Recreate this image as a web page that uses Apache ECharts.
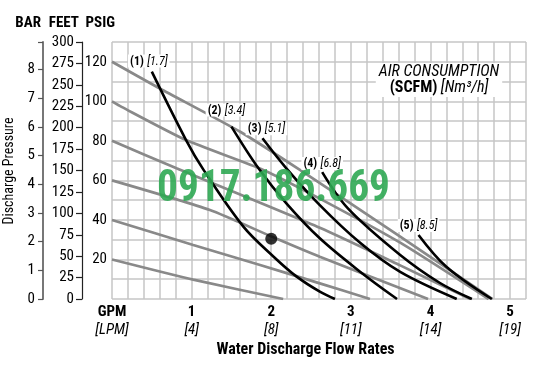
<!DOCTYPE html>
<html><head><meta charset="utf-8">
<script src="https://cdn.jsdelivr.net/npm/echarts@6/dist/echarts.min.js"></script>
<style>html,body{margin:0;padding:0;background:#fff}#c{width:544px;height:381px}</style>
</head><body><div id="c"></div>
<script>
// ---------- data (GPM, PSIG) ----------
const gpmTicks = [1, 2, 3, 4, 5];
const lpmTicks = ['[4]', '[8]', '[11]', '[14]', '[19]'];
const psiTicks = [20, 40, 60, 80, 100, 120];

// air inlet pressure lines (gray)
const air120 = [[0,120],[0.60,106.5],[1.61,84.6],[2.36,65.3],[3.62,31.5],[4.78,0]];
const air100 = [[0,100],[0.12,97.2],[0.93,80.4],[1.90,65.3],[2.61,50.8],[3.62,28.5],[4.73,0]];
const air80  = [[0,80],[0.81,66.1],[2.61,36],[3.62,17],[4.5,0]];
const air60  = [[0,60],[1.23,45],[2.01,31.5],[2.61,21.4],[3.97,0]];
const air40  = [[0,40],[1.02,27.3],[1.86,17.2],[2.61,7.9],[3.24,0]];
const air20  = [[0,20],[1.02,9.8],[2.15,0]];

// air consumption curves (black)
const scfm1 = [[0.50,115],[0.93,80.4],[1.15,65.3],[1.65,36.6],[2.03,21.4],[2.32,11.3],[2.61,3.7],[2.80,0]];
const scfm2 = [[1.50,87.2],[1.84,66.1],[2.19,48.4],[2.61,30.7],[3.12,13.7],[3.58,0]];
const scfm3 = [[1.89,81.3],[2.19,66.1],[2.61,47.5],[3.12,28.3],[3.62,13.7],[4.33,0]];
const scfm4 = [[2.64,64.2],[2.96,46],[3.62,22.3],[4.12,8.1],[4.52,0]];
const scfm5 = [[3.85,32.4],[4.20,16.3],[4.77,0]];
const scfmNames = ['(1)', '(2)', '(3)', '(4)', '(5)'];
const nm3Names = ['[1.7]', '[3.4]', '[5.1]', '[6.8]', '[8.5]'];

const samplePoint = [[2.0, 30.5]];

// ---------- styling ----------
const FONT = '"Roboto Condensed","Liberation Sans Narrow","Open Sans Condensed","DejaVu Sans Condensed",sans-serif';
const PSI_PER_BAR = 14.5038;
const PSI_MAX = 130;

// fit the watermark to its width in the picture
const WM_TEXT = '0917.186.669';
const WM_SIZE = 44;
const mctx = document.createElement('canvas').getContext('2d');
mctx.font = 'bold ' + WM_SIZE + 'px ' + FONT;
const wmScale = 233 / mctx.measureText(WM_TEXT).width;

const grayLines = [air120, air100, air80, air60, air40, air20];
const blackLines = [scfm1, scfm2, scfm3, scfm4, scfm5];
const labelPos = [
  {distance: 4, offset: [-3, 0]},
  {distance: 10, offset: [-5, 0]},
  {distance: 3, offset: [4, 0]},
  {distance: 2, offset: [0, 0]},
  {distance: 3, offset: [0, 0]}
];

const series = [];
grayLines.forEach(function (d) {
  series.push({
    type: 'line', data: d, symbol: 'none', smooth: 0.2,
    lineStyle: {color: '#898989', width: 2.7}, z: 2
  });
});
blackLines.forEach(function (d, i) {
  const data = d.map(function (p, j) {
    if (j !== 0) return {value: p};
    return {
      value: p,
      label: {
        show: true, position: 'top', distance: labelPos[i].distance, offset: labelPos[i].offset,
        formatter: '{b|' + scfmNames[i] + '} {i|' + nm3Names[i] + '}',
        backgroundColor: '#fff', padding: [1, 2, 0, 2],
        rich: {
          b: {fontFamily: FONT, fontWeight: 'bold', fontSize: 12, color: '#000'},
          i: {fontFamily: FONT, fontStyle: 'italic', fontSize: 12, color: '#000'}
        }
      }
    };
  });
  series.push({
    type: 'line', data: data, symbol: 'circle', symbolSize: 0.1, showSymbol: true, smooth: 0.35,
    itemStyle: {color: '#000'},
    lineStyle: {color: '#000', width: 2.6}, z: 3
  });
});
series.push({
  type: 'scatter', data: samplePoint, symbolSize: 12, itemStyle: {color: '#000'}, z: 4
});

const option = {
  animation: false,
  backgroundColor: '#fff',
  grid: {left: 112, right: 18, top: 42, bottom: 82, containLabel: false},
  xAxis: {
    type: 'value', min: 0, max: 5.2, interval: 0.2,
    name: 'Water Discharge Flow Rates', nameLocation: 'middle', nameGap: 43,
    nameTextStyle: {fontFamily: FONT, fontWeight: 'bold', fontSize: 16, color: '#000', padding: [0, 27, 0, 0]},
    axisLine: {show: false}, axisTick: {show: false},
    splitLine: {show: true, lineStyle: {color: '#c6c6c6', width: 1.5}},
    axisLabel: {
      margin: 4,
      formatter: function (v) {
        const r = Math.round(v);
        if (Math.abs(v - r) > 1e-6) return '';
        if (r === 0) return '{g|GPM}\n{l|[LPM]}';
        const k = gpmTicks.indexOf(r);
        if (k < 0) return '';
        return '{g|' + gpmTicks[k] + '}\n{l|' + lpmTicks[k] + '}';
      },
      rich: {
        g: {fontFamily: FONT, fontWeight: 'bold', fontSize: 15, lineHeight: 18, color: '#000'},
        l: {fontFamily: FONT, fontStyle: 'italic', fontSize: 15, lineHeight: 18, color: '#000'}
      }
    }
  },
  yAxis: [
    {
      type: 'value', min: 0, max: PSI_MAX, interval: 10, position: 'left',
      name: 'PSIG', nameLocation: 'end', nameGap: 19,
      nameTextStyle: {fontFamily: FONT, fontWeight: 'bold', fontSize: 15, color: '#000', align: 'right', verticalAlign: 'middle', padding: [0, -3, 0, 0]},
      axisLine: {show: false}, axisTick: {show: false},
      splitLine: {show: true, lineStyle: {color: '#c6c6c6', width: 1.5}},
      axisLabel: {
        margin: 5, fontFamily: FONT, fontSize: 15, color: '#000',
        formatter: function (v) { return psiTicks.indexOf(Math.round(v)) >= 0 && Math.abs(v - Math.round(v)) < 1e-6 ? String(Math.round(v)) : ''; }
      }
    },
    {
      type: 'value', min: 0, max: 300, interval: 25, position: 'left', offset: 30,
      name: 'FEET', nameLocation: 'end', nameGap: 19,
      nameTextStyle: {fontFamily: FONT, fontWeight: 'bold', fontSize: 15, color: '#000', align: 'right', verticalAlign: 'middle', padding: [0, 3, 0, 0]},
      axisLine: {show: true, lineStyle: {color: '#222', width: 1.2}},
      axisTick: {show: true, length: 6, lineStyle: {color: '#222', width: 1.2}},
      splitLine: {show: false},
      axisLabel: {margin: 8, fontFamily: FONT, fontSize: 15, color: '#000'}
    },
    {
      type: 'value', min: 0, max: PSI_MAX / PSI_PER_BAR, interval: 1, position: 'left', offset: 69,
      name: 'BAR', nameLocation: 'end', nameGap: 19,
      nameTextStyle: {fontFamily: FONT, fontWeight: 'bold', fontSize: 15, color: '#000', align: 'right', verticalAlign: 'middle', padding: [0, 2, 0, 0]},
      axisLine: {show: true, lineStyle: {color: '#777', width: 2}},
      axisTick: {show: true, length: 5, lineStyle: {color: '#555', width: 1.2}},
      splitLine: {show: false},
      axisLabel: {
        margin: 8, fontFamily: FONT, fontSize: 15, color: '#000',
        formatter: function (v) { return Math.abs(v - Math.round(v)) < 1e-6 ? String(Math.round(v)) : ''; }
      }
    }
  ],
  graphic: [
    {
      type: 'text', x: 9, y: 171, rotation: Math.PI / 2, z: 10,
      style: {text: 'Discharge Pressure', fontFamily: FONT, fontSize: 14, fill: '#000', align: 'center', verticalAlign: 'middle'}
    },
    {
      type: 'text', x: 439, y: 80, z: 10,
      style: {
        text: '{i|AIR CONSUMPTION}\n{b|(SCFM)} {i|[Nm³/h]}',
        align: 'center', verticalAlign: 'middle', backgroundColor: '#fff', padding: [1, 3],
        rich: {
          i: {fontFamily: FONT, fontStyle: 'italic', fontSize: 16, lineHeight: 16, fill: '#000'},
          b: {fontFamily: FONT, fontWeight: 'bold', fontSize: 16, lineHeight: 16, fill: '#000'}
        }
      }
    },
    {
      type: 'text', x: 157, y: 190, z: 100, scaleX: wmScale, scaleY: 1,
      style: {text: WM_TEXT, fontFamily: FONT, fontWeight: 'bold', fontSize: WM_SIZE, fill: '#2fa853', opacity: 0.9, align: 'left', verticalAlign: 'middle'}
    }
  ],
  series: series
};

const chart = echarts.init(document.getElementById('c'), null, {renderer: 'canvas'});
chart.setOption(option);
</script>
</body></html>
